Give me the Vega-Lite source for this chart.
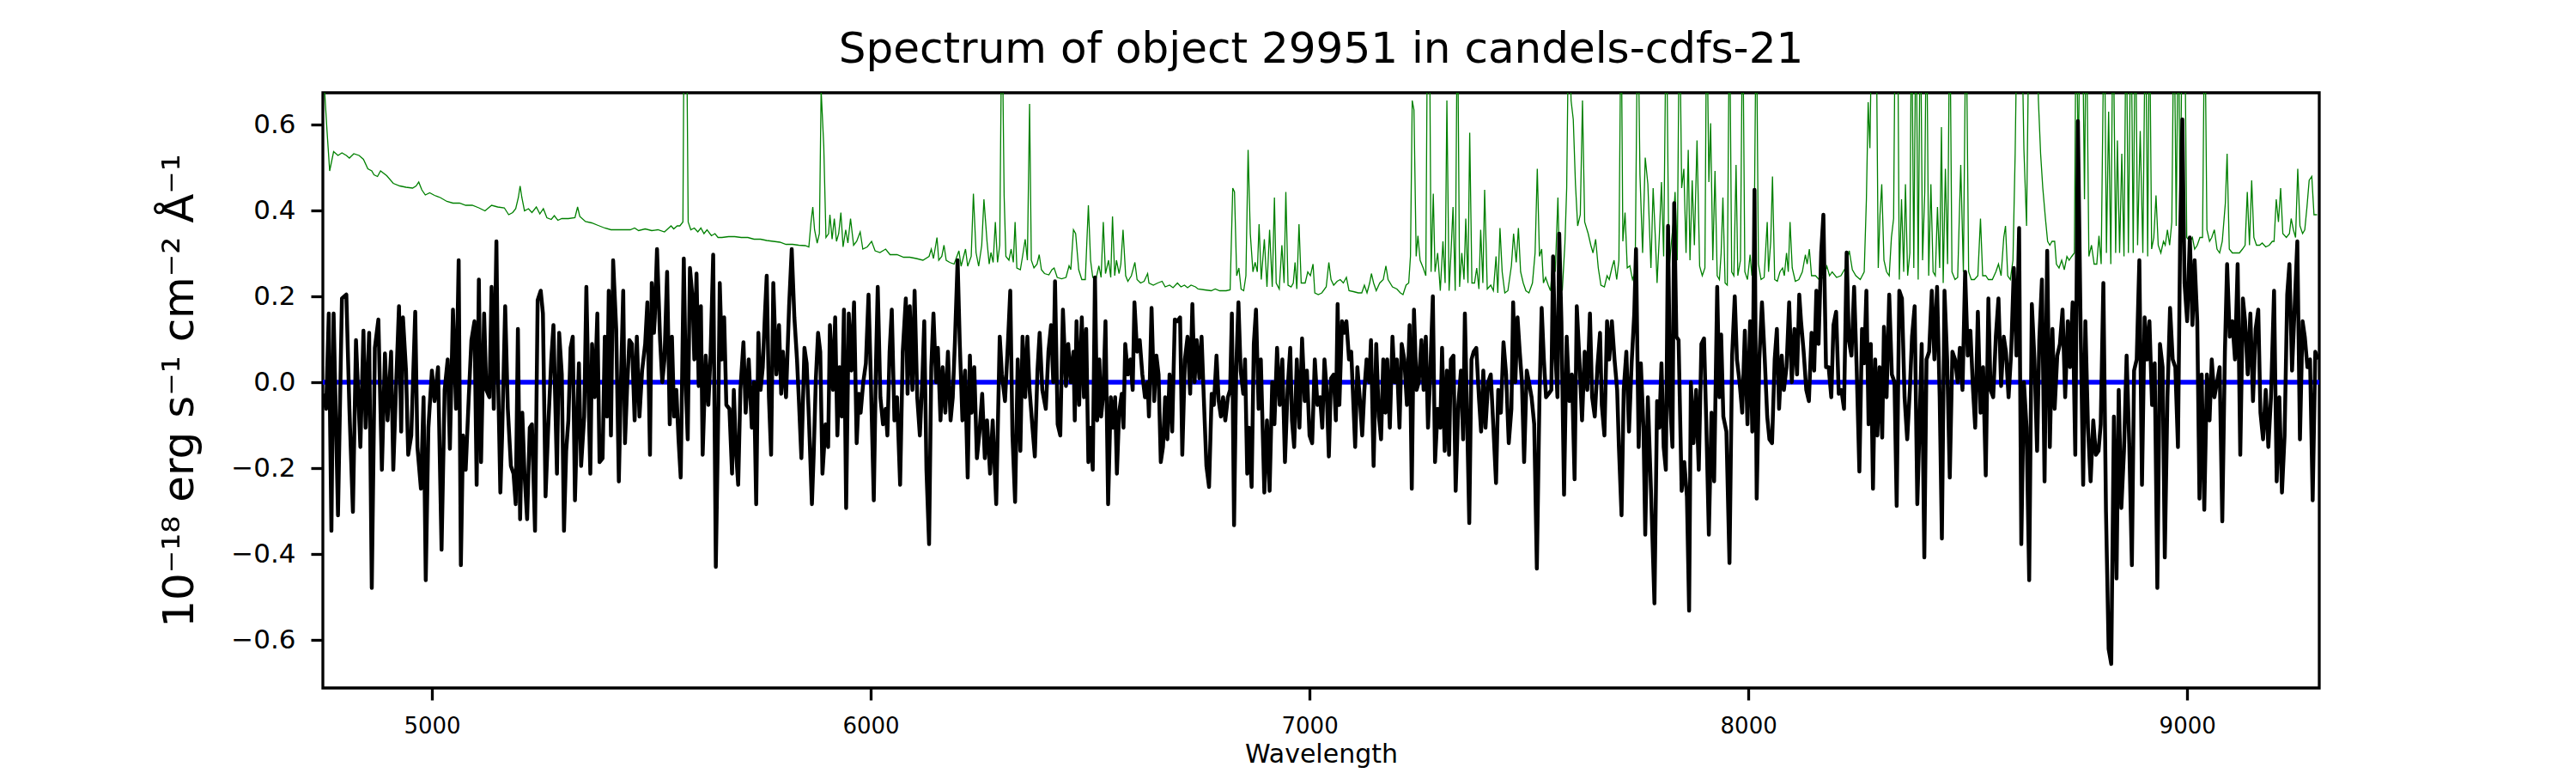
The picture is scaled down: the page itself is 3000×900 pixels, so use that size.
{
  "$schema": "https://vega.github.io/schema/vega-lite/v6.json",
  "width": 2325,
  "height": 693,
  "autosize": {"type": "none"},
  "padding": {"left": 376, "top": 108, "right": 299, "bottom": 99},
  "background": "white",
  "title": {
    "text": "Spectrum of object 29951 in candels-cdfs-21",
    "font": "DejaVu Sans",
    "fontSize": 50,
    "fontWeight": "normal",
    "color": "black",
    "anchor": "middle",
    "offset": 25
  },
  "config": {
    "font": "DejaVu Sans",
    "view": {"stroke": "black", "strokeWidth": 3.3}
  },
  "datasets": {
    "model": [
      {"w": 4751, "f": 0},
      {"w": 9301, "f": 0}
    ],
    "sky": [
      {"w":4752,"f":0.80},{"w":4756,"f":0.67},{"w":4761,"f":0.585},{"w":4767,"f":0.492},{"w":4776,"f":0.537},{"w":4786,"f":0.528},{"w":4795,"f":0.534},{"w":4805,"f":0.528},{"w":4812,"f":0.522},{"w":4822,"f":0.532},{"w":4834,"f":0.528},{"w":4844,"f":0.519},{"w":4854,"f":0.497},{"w":4863,"f":0.492},{"w":4868,"f":0.483},{"w":4876,"f":0.479},{"w":4883,"f":0.492},{"w":4897,"f":0.481},{"w":4912,"f":0.463},{"w":4927,"f":0.457},{"w":4941,"f":0.454},{"w":4956,"f":0.452},{"w":4964,"f":0.457},{"w":4970,"f":0.466},{"w":4977,"f":0.448},{"w":4985,"f":0.436},{"w":4995,"f":0.441},{"w":5006,"f":0.435},{"w":5019,"f":0.430},{"w":5034,"f":0.421},{"w":5048,"f":0.417},{"w":5063,"f":0.417},{"w":5077,"f":0.412},{"w":5092,"f":0.412},{"w":5107,"f":0.406},{"w":5121,"f":0.399},{"w":5136,"f":0.412},{"w":5150,"f":0.408},{"w":5165,"f":0.406},{"w":5175,"f":0.390},{"w":5184,"f":0.395},{"w":5191,"f":0.404},{"w":5197,"f":0.430},{"w":5201,"f":0.457},{"w":5205,"f":0.430},{"w":5211,"f":0.399},{"w":5220,"f":0.404},{"w":5228,"f":0.395},{"w":5238,"f":0.408},{"w":5246,"f":0.392},{"w":5254,"f":0.404},{"w":5262,"f":0.383},{"w":5272,"f":0.379},{"w":5279,"f":0.388},{"w":5287,"f":0.377},{"w":5296,"f":0.381},{"w":5311,"f":0.381},{"w":5326,"f":0.383},{"w":5332,"f":0.408},{"w":5337,"f":0.386},{"w":5350,"f":0.374},{"w":5364,"f":0.371},{"w":5379,"f":0.365},{"w":5394,"f":0.359},{"w":5408,"f":0.355},{"w":5423,"f":0.355},{"w":5437,"f":0.355},{"w":5452,"f":0.355},{"w":5462,"f":0.359},{"w":5471,"f":0.353},{"w":5486,"f":0.357},{"w":5501,"f":0.353},{"w":5515,"f":0.355},{"w":5530,"f":0.350},{"w":5545,"f":0.364},{"w":5551,"f":0.357},{"w":5559,"f":0.364},{"w":5565,"f":0.364},{"w":5572,"f":0.373},{"w":5575,"f":0.9},{"w":5580,"f":0.9},{"w":5584,"f":0.373},{"w":5590,"f":0.355},{"w":5598,"f":0.359},{"w":5606,"f":0.350},{"w":5613,"f":0.359},{"w":5620,"f":0.346},{"w":5627,"f":0.355},{"w":5637,"f":0.341},{"w":5645,"f":0.346},{"w":5652,"f":0.337},{"w":5661,"f":0.337},{"w":5676,"f":0.339},{"w":5690,"f":0.339},{"w":5705,"f":0.337},{"w":5720,"f":0.337},{"w":5734,"f":0.333},{"w":5749,"f":0.333},{"w":5763,"f":0.330},{"w":5778,"f":0.328},{"w":5793,"f":0.326},{"w":5807,"f":0.321},{"w":5822,"f":0.321},{"w":5836,"f":0.319},{"w":5851,"f":0.318},{"w":5859,"f":0.315},{"w":5864,"f":0.373},{"w":5868,"f":0.408},{"w":5872,"f":0.355},{"w":5878,"f":0.324},{"w":5883,"f":0.346},{"w":5887,"f":0.68},{"w":5893,"f":0.550},{"w":5898,"f":0.337},{"w":5904,"f":0.346},{"w":5907,"f":0.390},{"w":5912,"f":0.333},{"w":5917,"f":0.381},{"w":5922,"f":0.328},{"w":5927,"f":0.346},{"w":5932,"f":0.395},{"w":5937,"f":0.315},{"w":5943,"f":0.355},{"w":5948,"f":0.324},{"w":5954,"f":0.381},{"w":5961,"f":0.319},{"w":5968,"f":0.328},{"w":5976,"f":0.350},{"w":5982,"f":0.310},{"w":5992,"f":0.315},{"w":6002,"f":0.328},{"w":6010,"f":0.306},{"w":6021,"f":0.302},{"w":6034,"f":0.310},{"w":6044,"f":0.297},{"w":6060,"f":0.297},{"w":6075,"f":0.291},{"w":6089,"f":0.291},{"w":6104,"f":0.288},{"w":6119,"f":0.284},{"w":6133,"f":0.293},{"w":6138,"f":0.310},{"w":6143,"f":0.288},{"w":6151,"f":0.337},{"w":6155,"f":0.284},{"w":6162,"f":0.293},{"w":6167,"f":0.319},{"w":6172,"f":0.284},{"w":6180,"f":0.279},{"w":6190,"f":0.275},{"w":6201,"f":0.306},{"w":6206,"f":0.270},{"w":6216,"f":0.310},{"w":6221,"f":0.270},{"w":6229,"f":0.293},{"w":6234,"f":0.439},{"w":6240,"f":0.302},{"w":6246,"f":0.270},{"w":6253,"f":0.319},{"w":6258,"f":0.426},
      {"w":6265,"f":0.328},{"w":6270,"f":0.275},{"w":6274,"f":0.302},{"w":6279,"f":0.279},{"w":6284,"f":0.373},{"w":6289,"f":0.279},{"w":6294,"f":0.319},{"w":6299,"f":0.9},{"w":6304,"f":0.435},{"w":6308,"f":0.293},{"w":6315,"f":0.284},{"w":6320,"f":0.310},{"w":6325,"f":0.279},{"w":6329,"f":0.373},{"w":6333,"f":0.266},{"w":6341,"f":0.262},{"w":6346,"f":0.293},{"w":6352,"f":0.333},{"w":6357,"f":0.284},{"w":6362,"f":0.648},{"w":6366,"f":0.284},{"w":6372,"f":0.266},{"w":6379,"f":0.275},{"w":6384,"f":0.297},{"w":6389,"f":0.262},{"w":6396,"f":0.253},{"w":6406,"f":0.250},{"w":6413,"f":0.262},{"w":6418,"f":0.266},{"w":6425,"f":0.244},{"w":6435,"f":0.241},{"w":6445,"f":0.244},{"w":6452,"f":0.271},{"w":6456,"f":0.262},{"w":6462,"f":0.355},{"w":6467,"f":0.346},{"w":6474,"f":0.262},{"w":6481,"f":0.239},{"w":6489,"f":0.239},{"w":6496,"f":0.412},{"w":6501,"f":0.284},{"w":6506,"f":0.244},{"w":6513,"f":0.239},{"w":6520,"f":0.271},{"w":6525,"f":0.244},{"w":6530,"f":0.373},{"w":6535,"f":0.253},{"w":6542,"f":0.284},{"w":6547,"f":0.244},{"w":6551,"f":0.386},{"w":6556,"f":0.248},{"w":6560,"f":0.284},{"w":6566,"f":0.253},{"w":6570,"f":0.275},{"w":6575,"f":0.355},{"w":6581,"f":0.248},{"w":6586,"f":0.235},{"w":6594,"f":0.248},{"w":6602,"f":0.279},{"w":6607,"f":0.239},{"w":6615,"f":0.231},{"w":6623,"f":0.235},{"w":6631,"f":0.253},{"w":6634,"f":0.231},{"w":6644,"f":0.226},{"w":6654,"f":0.231},{"w":6664,"f":0.235},{"w":6671,"f":0.222},{"w":6681,"f":0.226},{"w":6689,"f":0.220},{"w":6699,"f":0.231},{"w":6707,"f":0.222},{"w":6715,"f":0.226},{"w":6722,"f":0.220},{"w":6730,"f":0.226},{"w":6740,"f":0.222},{"w":6746,"f":0.217},{"w":6761,"f":0.215},{"w":6776,"f":0.213},{"w":6785,"f":0.217},{"w":6795,"f":0.213},{"w":6810,"f":0.213},{"w":6819,"f":0.215},{"w":6825,"f":0.452},{"w":6829,"f":0.443},{"w":6834,"f":0.248},{"w":6839,"f":0.266},{"w":6844,"f":0.217},{"w":6850,"f":0.213},{"w":6855,"f":0.248},{"w":6860,"f":0.541},{"w":6865,"f":0.346},{"w":6871,"f":0.257},{"w":6876,"f":0.279},{"w":6881,"f":0.257},{"w":6885,"f":0.368},{"w":6890,"f":0.239},{"w":6897,"f":0.333},{"w":6903,"f":0.222},{"w":6909,"f":0.355},{"w":6915,"f":0.222},{"w":6920,"f":0.430},{"w":6924,"f":0.231},{"w":6931,"f":0.217},{"w":6937,"f":0.319},{"w":6942,"f":0.231},{"w":6946,"f":0.443},{"w":6951,"f":0.226},{"w":6958,"f":0.222},{"w":6963,"f":0.231},{"w":6967,"f":0.279},{"w":6971,"f":0.217},{"w":6976,"f":0.368},{"w":6981,"f":0.231},{"w":6990,"f":0.231},{"w":6996,"f":0.257},{"w":7002,"f":0.248},{"w":7008,"f":0.275},{"w":7012,"f":0.208},{"w":7020,"f":0.204},{"w":7028,"f":0.208},{"w":7038,"f":0.222},{"w":7044,"f":0.279},{"w":7049,"f":0.239},{"w":7055,"f":0.226},{"w":7063,"f":0.235},{"w":7070,"f":0.239},{"w":7077,"f":0.231},{"w":7084,"f":0.244},{"w":7090,"f":0.213},{"w":7100,"f":0.211},{"w":7111,"f":0.208},{"w":7119,"f":0.208},{"w":7125,"f":0.226},{"w":7131,"f":0.208},{"w":7137,"f":0.231},{"w":7141,"f":0.253},{"w":7146,"f":0.231},{"w":7152,"f":0.213},{"w":7160,"f":0.231},{"w":7168,"f":0.239},{"w":7174,"f":0.271},{"w":7179,"f":0.239},{"w":7189,"f":0.222},{"w":7199,"f":0.217},{"w":7207,"f":0.208},{"w":7213,"f":0.204},{"w":7220,"f":0.226},{"w":7226,"f":0.231},{"w":7230,"f":0.293},{"w":7234,"f":0.656},{"w":7238,"f":0.634},{"w":7243,"f":0.293},{"w":7247,"f":0.341},{"w":7252,"f":0.284},{"w":7259,"f":0.266},{"w":7265,"f":0.248},{"w":7269,"f":0.9},{"w":7273,"f":0.9},{"w":7277,"f":0.257},{"w":7282,"f":0.439},{"w":7286,"f":0.257},{"w":7292,"f":0.301},{"w":7298,"f":0.213},{"w":7304,"f":0.328},{"w":7309,"f":0.231},{"w":7313,"f":0.656},{"w":7318,"f":0.213},{"w":7322,"f":0.293},{"w":7327,"f":0.408},{"w":7332,"f":0.213},{"w":7337,"f":0.9},{"w":7342,"f":0.222},{"w":7347,"f":0.301},{"w":7352,"f":0.239},{"w":7356,"f":0.381},{"w":7361,"f":0.231},{"w":7365,"f":0.581},{"w":7370,"f":0.231},{"w":7376,"f":0.231},{"w":7381,"f":0.266},{"w":7386,"f":0.217},{"w":7390,"f":0.355},{"w":7395,"f":0.231},{"w":7399,"f":0.448},{"w":7405,"f":0.217},{"w":7413,"f":0.226},{"w":7419,"f":0.213},{"w":7425,"f":0.293},{"w":7429,"f":0.208},{"w":7434,"f":0.359},{"w":7439,"f":0.257},{"w":7445,"f":0.208},{"w":7452,"f":0.213},{"w":7460,"f":0.271},{"w":7465,"f":0.346},{"w":7471,"f":0.279},{"w":7476,"f":0.359},{"w":7481,"f":0.257},{"w":7487,"f":0.231},{"w":7493,"f":0.213},{"w":7500,"f":0.208},{"w":7508,"f":0.231},{"w":7514,"f":0.301},{"w":7519,"f":0.497},{"w":7524,"f":0.293},{"w":7529,"f":0.310},{"w":7533,"f":0.231},{"w":7538,"f":0.244},{"w":7544,"f":0.226},{"w":7549,"f":0.213},{"w":7555,"f":0.288},{"w":7560,"f":0.257},{"w":7566,"f":0.430},{"w":7570,"f":0.248},{"w":7576,"f":0.213},{"w":7582,"f":0.324},{"w":7586,"f":0.452},{"w":7591,"f":0.9},{"w":7596,"f":0.656},{"w":7601,"f":0.612},{"w":7606,"f":0.461},{"w":7611,"f":0.364},{"w":7617,"f":0.390},{"w":7622,"f":0.656},{"w":7627,"f":0.373},{"w":7635,"f":0.346},{"w":7641,"f":0.319},{"w":7646,"f":0.301},{"w":7652,"f":0.333},{"w":7658,"f":0.266},{"w":7664,"f":0.226},{"w":7672,"f":0.222},{"w":7678,"f":0.248},{"w":7683,"f":0.239},{"w":7689,"f":0.266},{"w":7694,"f":0.284},{"w":7700,"f":0.239},{"w":7705,"f":0.284},{"w":7710,"f":0.9},{"w":7714,"f":0.328},{"w":7719,"f":0.395},{"w":7724,"f":0.266},{"w":7730,"f":0.271},{"w":7736,"f":0.239},{"w":7742,"f":0.257},{"w":7748,"f":0.9},{"w":7753,"f":0.483},{"w":7759,"f":0.301},{"w":7765,"f":0.523},{"w":7771,"f":0.461},
      {"w":7778,"f":0.266},{"w":7783,"f":0.452},{"w":7788,"f":0.337},{"w":7792,"f":0.231},{"w":7797,"f":0.337},{"w":7802,"f":0.466},{"w":7807,"f":0.293},{"w":7813,"f":0.9},{"w":7819,"f":0.257},{"w":7824,"f":0.319},{"w":7829,"f":0.373},{"w":7833,"f":0.443},{"w":7838,"f":0.284},{"w":7843,"f":0.9},{"w":7848,"f":0.452},{"w":7853,"f":0.497},{"w":7858,"f":0.301},{"w":7863,"f":0.541},{"w":7867,"f":0.284},{"w":7872,"f":0.470},{"w":7877,"f":0.319},{"w":7883,"f":0.563},{"w":7889,"f":0.270},{"w":7895,"f":0.248},{"w":7901,"f":0.266},{"w":7905,"f":0.9},{"w":7910,"f":0.466},{"w":7914,"f":0.603},{"w":7919,"f":0.284},{"w":7924,"f":0.492},{"w":7929,"f":0.248},{"w":7934,"f":0.239},{"w":7938,"f":0.301},{"w":7942,"f":0.430},{"w":7947,"f":0.231},{"w":7952,"f":0.226},{"w":7957,"f":0.9},{"w":7962,"f":0.257},{"w":7967,"f":0.248},{"w":7972,"f":0.506},{"w":7976,"f":0.248},{"w":7982,"f":0.284},{"w":7987,"f":0.9},{"w":7992,"f":0.257},{"w":7998,"f":0.239},{"w":8004,"f":0.297},{"w":8008,"f":0.248},{"w":8013,"f":0.301},{"w":8018,"f":0.9},{"w":8023,"f":0.275},{"w":8029,"f":0.239},{"w":8036,"f":0.244},{"w":8043,"f":0.373},{"w":8046,"f":0.257},{"w":8051,"f":0.328},{"w":8055,"f":0.479},{"w":8060,"f":0.239},{"w":8066,"f":0.235},{"w":8072,"f":0.257},{"w":8078,"f":0.266},{"w":8082,"f":0.248},{"w":8087,"f":0.301},{"w":8091,"f":0.257},{"w":8095,"f":0.373},{"w":8100,"f":0.266},{"w":8107,"f":0.235},{"w":8115,"f":0.239},{"w":8123,"f":0.257},{"w":8130,"f":0.297},{"w":8134,"f":0.275},{"w":8139,"f":0.310},{"w":8144,"f":0.248},{"w":8153,"f":0.248},{"w":8161,"f":0.239},{"w":8171,"f":0.244},{"w":8179,"f":0.270},{"w":8185,"f":0.248},{"w":8191,"f":0.257},{"w":8201,"f":0.244},{"w":8211,"f":0.248},{"w":8221,"f":0.266},{"w":8230,"f":0.306},{"w":8237,"f":0.262},{"w":8245,"f":0.248},{"w":8255,"f":0.239},{"w":8264,"f":0.257},{"w":8269,"f":0.426},{"w":8273,"f":0.652},{"w":8277,"f":0.545},{"w":8282,"f":0.9},{"w":8287,"f":0.9},{"w":8291,"f":0.9},{"w":8296,"f":0.266},{"w":8300,"f":0.390},{"w":8304,"f":0.461},{"w":8309,"f":0.284},{"w":8315,"f":0.257},{"w":8321,"f":0.248},{"w":8326,"f":0.337},{"w":8331,"f":0.381},{"w":8335,"f":0.9},{"w":8340,"f":0.9},{"w":8344,"f":0.239},{"w":8349,"f":0.426},{"w":8354,"f":0.257},{"w":8358,"f":0.461},{"w":8363,"f":0.248},{"w":8368,"f":0.301},{"w":8372,"f":0.9},{"w":8377,"f":0.266},{"w":8382,"f":0.9},{"w":8387,"f":0.239},{"w":8392,"f":0.9},{"w":8397,"f":0.284},{"w":8402,"f":0.443},{"w":8406,"f":0.9},{"w":8411,"f":0.248},{"w":8416,"f":0.461},{"w":8421,"f":0.257},{"w":8426,"f":0.248},{"w":8431,"f":0.408},{"w":8436,"f":0.266},{"w":8440,"f":0.594},{"w":8444,"f":0.231},{"w":8449,"f":0.497},{"w":8454,"f":0.275},{"w":8459,"f":0.9},{"w":8464,"f":0.257},{"w":8471,"f":0.239},{"w":8477,"f":0.244},{"w":8484,"f":0.506},{"w":8490,"f":0.257},{"w":8496,"f":0.9},{"w":8502,"f":0.257},{"w":8508,"f":0.239},{"w":8515,"f":0.239},{"w":8523,"f":0.248},{"w":8529,"f":0.381},{"w":8534,"f":0.248},{"w":8541,"f":0.248},{"w":8547,"f":0.239},{"w":8556,"f":0.239},{"w":8564,"f":0.257},{"w":8570,"f":0.275},{"w":8576,"f":0.248},{"w":8582,"f":0.337},{"w":8586,"f":0.364},{"w":8591,"f":0.248},{"w":8597,"f":0.239},{"w":8603,"f":0.284},{"w":8608,"f":0.532},{"w":8613,"f":0.9},{"w":8618,"f":0.9},{"w":8622,"f":0.9},{"w":8628,"f":0.541},{"w":8634,"f":0.364},{"w":8640,"f":0.9},{"w":8646,"f":0.9},{"w":8652,"f":0.9},{"w":8657,"f":0.9},{"w":8661,"f":0.656},{"w":8666,"f":0.532},{"w":8671,"f":0.452},{"w":8677,"f":0.381},{"w":8682,"f":0.328},{"w":8687,"f":0.319},{"w":8692,"f":0.328},{"w":8698,"f":0.328},{"w":8702,"f":0.275},{"w":8708,"f":0.266},{"w":8714,"f":0.284},{"w":8720,"f":0.262},{"w":8726,"f":0.293},{"w":8731,"f":0.284},{"w":8737,"f":0.293},{"w":8743,"f":0.301},{"w":8747,"f":0.9},{"w":8752,"f":0.497},{"w":8756,"f":0.9},{"w":8761,"f":0.9},{"w":8766,"f":0.426},{"w":8770,"f":0.9},{"w":8776,"f":0.293},{"w":8782,"f":0.319},{"w":8788,"f":0.275},{"w":8794,"f":0.275},{"w":8799,"f":0.341},{"w":8804,"f":0.275},{"w":8811,"f":0.9},{"w":8816,"f":0.301},{"w":8821,"f":0.630},{"w":8826,"f":0.275},{"w":8831,"f":0.9},{"w":8837,"f":0.301},{"w":8841,"f":0.563},{"w":8846,"f":0.301},{"w":8851,"f":0.532},{"w":8856,"f":0.293},{"w":8861,"f":0.9},{"w":8866,"f":0.301},{"w":8872,"f":0.9},{"w":8877,"f":0.301},{"w":8882,"f":0.9},{"w":8887,"f":0.319},{"w":8893,"f":0.585},{"w":8899,"f":0.301},{"w":8905,"f":0.9},{"w":8910,"f":0.293},{"w":8914,"f":0.9},{"w":8919,"f":0.310},{"w":8924,"f":0.337},{"w":8929,"f":0.435},{"w":8934,"f":0.319},{"w":8940,"f":0.301},{"w":8946,"f":0.328},{"w":8950,"f":0.319},{"w":8955,"f":0.355},{"w":8960,"f":0.319},{"w":8965,"f":0.373},{"w":8970,"f":0.9},{"w":8975,"f":0.364},{"w":8980,"f":0.9},{"w":8984,"f":0.355},{"w":8989,"f":0.9},{"w":8994,"f":0.9},{"w":8999,"f":0.337},{"w":9006,"f":0.328},{"w":9012,"f":0.337},{"w":9017,"f":0.310},{"w":9023,"f":0.319},{"w":9029,"f":0.337},{"w":9035,"f":0.337},{"w":9040,"f":0.9},{"w":9045,"f":0.355},{"w":9051,"f":0.328},{"w":9056,"f":0.337},{"w":9062,"f":0.355},{"w":9068,"f":0.310},{"w":9074,"f":0.301},{"w":9080,"f":0.328},{"w":9087,"f":0.417},{"w":9091,"f":0.532},{"w":9096,"f":0.310},{"w":9103,"f":0.301},{"w":9111,"f":0.301},{"w":9119,"f":0.301},{"w":9126,"f":0.310},{"w":9132,"f":0.319},{"w":9137,"f":0.443},{"w":9142,"f":0.319},{"w":9147,"f":0.470},{"w":9152,"f":0.337},{"w":9158,"f":0.319},{"w":9165,"f":0.319},{"w":9171,"f":0.324},{"w":9179,"f":0.315},{"w":9187,"f":0.319},{"w":9194,"f":0.328},{"w":9198,"f":0.328},{"w":9203,"f":0.426},{"w":9208,"f":0.373},{"w":9213,"f":0.452},{"w":9218,"f":0.346},{"w":9226,"f":0.337},{"w":9233,"f":0.346},{"w":9237,"f":0.381},{"w":9242,"f":0.355},{"w":9247,"f":0.337},{"w":9252,"f":0.497},{"w":9257,"f":0.364},{"w":9263,"f":0.346},{"w":9268,"f":0.355},{"w":9273,"f":0.408},{"w":9278,"f":0.470},{"w":9284,"f":0.479},{"w":9289,"f":0.390},{"w":9296,"f":0.390}
    ],
    "flux": [
      {"w":4752,"f":-0.027},{"w":4759,"f":-0.062},{"w":4765,"f":0.160},{"w":4771,"f":-0.346},{"w":4776,"f":0.160},{"w":4786,"f":-0.310},{"w":4795,"f":0.195},{"w":4805,"f":0.204},{"w":4812,"f":-0.062},{"w":4820,"f":-0.302},{"w":4827,"f":0.098},{"w":4837,"f":-0.151},{"w":4844,"f":0.120},{"w":4849,"f":-0.106},{"w":4857,"f":0.115},{"w":4863,"f":-0.479},{"w":4870,"f":0.080},{"w":4878,"f":0.146},{"w":4886,"f":-0.204},{"w":4893,"f":0.067},{"w":4899,"f":-0.089},{"w":4907,"f":0.071},{"w":4912,"f":-0.204},{"w":4919,"f":0.009},{"w":4925,"f":0.177},{"w":4930,"f":-0.115},{"w":4934,"f":0.151},{"w":4941,"f":0.027},{"w":4946,"f":-0.169},{"w":4953,"f":-0.124},{"w":4962,"f":0.164},{"w":4967,"f":-0.151},{"w":4975,"f":-0.248},{"w":4981,"f":-0.035},{"w":4986,"f":-0.461},{"w":4992,"f":-0.106},{"w":5000,"f":0.027},{"w":5006,"f":-0.044},{"w":5014,"f":0.035},{"w":5022,"f":-0.390},{"w":5029,"f":-0.018},{"w":5036,"f":0.053},{"w":5041,"f":-0.155},{"w":5048,"f":0.169},{"w":5055,"f":-0.062},{"w":5061,"f":0.284},{"w":5066,"f":-0.426},{"w":5071,"f":-0.124},{"w":5077,"f":-0.204},{"w":5084,"f":-0.035},{"w":5090,"f":0.098},{"w":5097,"f":0.142},{"w":5102,"f":-0.239},{"w":5107,"f":0.239},{"w":5112,"f":-0.186},{"w":5119,"f":0.160},{"w":5124,"f":-0.018},{"w":5131,"f":-0.035},{"w":5136,"f":0.222},{"w":5141,"f":-0.062},{"w":5147,"f":0.328},{"w":5150,"f":0.053},{"w":5156,"f":-0.257},{"w":5160,"f":-0.124},{"w":5167,"f":0.177},{"w":5173,"f":-0.062},{"w":5180,"f":-0.195},{"w":5186,"f":-0.213},{"w":5191,"f":-0.284},{"w":5196,"f":0.124},{"w":5201,"f":-0.319},{"w":5206,"f":-0.071},{"w":5211,"f":-0.213},{"w":5217,"f":-0.319},{"w":5223,"f":-0.106},{"w":5228,"f":-0.098},{"w":5235,"f":-0.346},{"w":5241,"f":0.191},{"w":5248,"f":0.213},{"w":5253,"f":0.160},{"w":5259,"f":-0.266},{"w":5265,"f":-0.106},{"w":5272,"f":0.053},{"w":5277,"f":0.133},{"w":5285,"f":-0.213},{"w":5290,"f":0.115},{"w":5296,"f":0.018},{"w":5301,"f":-0.346},{"w":5306,"f":-0.160},{"w":5311,"f":-0.089},{"w":5316,"f":0.080},{"w":5321,"f":0.106},{"w":5326,"f":-0.275},{"w":5330,"f":-0.124},{"w":5335,"f":0.044},{"w":5340,"f":-0.195},{"w":5347,"f":-0.080},{"w":5352,"f":0.222},{"w":5357,"f":-0.035},{"w":5361,"f":-0.213},{"w":5365,"f":0.089},{"w":5371,"f":-0.035},{"w":5377,"f":0.160},{"w":5382,"f":-0.186},{"w":5389,"f":-0.177},{"w":5394,"f":0.106},{"w":5399,"f":-0.080},{"w":5403,"f":0.213},{"w":5408,"f":-0.124},{"w":5413,"f":0.284},{"w":5420,"f":0.124},{"w":5426,"f":-0.231},{"w":5431,"f":0.009},{"w":5436,"f":0.213},{"w":5440,"f":-0.142},{"w":5445,"f":-0.009},{"w":5450,"f":0.098},{"w":5456,"f":0.089},{"w":5462,"f":-0.089},{"w":5467,"f":0.106},{"w":5473,"f":-0.080},{"w":5479,"f":0.027},{"w":5486,"f":0.089},{"w":5491,"f":0.186},{"w":5497,"f":-0.169},{"w":5501,"f":0.231},{"w":5506,"f":0.115},{"w":5508,"f":0.151},{"w":5513,"f":0.310},{"w":5520,"f":0.098},{"w":5525,"f":0},{"w":5530,"f":0.053},{"w":5536,"f":0.257},{"w":5542,"f":-0.098},{"w":5547,"f":0.106},{"w":5552,"f":-0.080},{"w":5557,"f":-0.018},{"w":5562,"f":-0.133},{"w":5567,"f":-0.222},{"w":5574,"f":0.288},{"w":5579,"f":-0.018},{"w":5583,"f":-0.133},{"w":5588,"f":0.266},{"w":5594,"f":0.195},{"w":5598,"f":0.053},{"w":5603,"f":0.253},{"w":5608,"f":-0.009},{"w":5613,"f":0.177},{"w":5617,"f":-0.169},{"w":5624,"f":0.062},{"w":5630,"f":-0.053},{"w":5635,"f":0.062},{"w":5641,"f":0.297},{"w":5647,"f":-0.430},{"w":5653,"f":-0.044},{"w":5656,"f":0.231},{"w":5661,"f":0.053},{"w":5666,"f":0.151},{"w":5671,"f":-0.053},{"w":5678,"f":-0.062},{"w":5684,"f":-0.213},{"w":5688,"f":-0.018},{"w":5693,"f":-0.160},{"w":5698,"f":-0.239},{"w":5703,"f":-0.018},{"w":5710,"f":0.093},{"w":5715,"f":-0.071},{"w":5722,"f":0.053},{"w":5729,"f":-0.106},{"w":5734,"f":0},{"w":5739,"f":-0.284},{"w":5744,"f":0.115},{"w":5749,"f":-0.018},{"w":5754,"f":0.035},{"w":5759,"f":0.160},{"w":5763,"f":0.248},{"w":5768,"f":-0.035},{"w":5773,"f":-0.169},{"w":5778,"f":0.231},{"w":5785,"f":0.018},{"w":5791,"f":0.133},{"w":5796,"f":-0.027},{"w":5800,"f":0.071},{"w":5807,"f":-0.035},{"w":5814,"f":0.177},{"w":5820,"f":0.310},{"w":5826,"f":0.151},{"w":5832,"f":0.053},{"w":5836,"f":-0.035},{"w":5842,"f":-0.177},{"w":5849,"f":0.080},{"w":5854,"f":0.044},{"w":5859,"f":-0.080},{"w":5866,"f":-0.284},{"w":5870,"f":-0.169},{"w":5875,"f":0.009},{"w":5880,"f":0.115},{"w":5885,"f":0.071},{"w":5890,"f":-0.213},{"w":5897,"f":-0.098},{"w":5903,"f":-0.151},{"w":5907,"f":0.133},{"w":5914,"f":-0.018},{"w":5919,"f":0.151},{"w":5924,"f":-0.124},{"w":5929,"f":0.035},{"w":5934,"f":-0.080},{"w":5939,"f":0.169},{"w":5944,"f":-0.293},{"w":5950,"f":0.160},{"w":5956,"f":0.027},{"w":5962,"f":0.186},{"w":5968,"f":-0.142},{"w":5973,"f":-0.027},{"w":5977,"f":-0.071},{"w":5983,"f":0},{"w":5989,"f":0.044},{"w":5995,"f":0.204},{"w":6000,"f":0.018},{"w":6007,"f":-0.275},{"w":6012,"f":0.044},{"w":6016,"f":0.222},{"w":6022,"f":-0.035},{"w":6028,"f":-0.098},{"w":6034,"f":-0.062},{"w":6038,"f":-0.124},{"w":6043,"f":0.071},{"w":6048,"f":0.169},{"w":6054,"f":-0.089},{"w":6060,"f":-0.035},{"w":6067,"f":-0.239},{"w":6073,"f":0.071},{"w":6080,"f":0.195},{"w":6084,"f":-0.027},{"w":6089,"f":0.177},{"w":6095,"f":-0.018},{"w":6100,"f":0.213},{"w":6106,"f":-0.035},{"w":6112,"f":-0.124},{"w":6118,"f":0.018},{"w":6122,"f":0.142},{"w":6127,"f":-0.204},{"w":6133,"f":-0.377},{"w":6138,"f":0.035},{"w":6143,"f":0.160},{"w":6149,"f":0},{"w":6153,"f":0.080},{"w":6159,"f":-0.089},{"w":6164,"f":0.035},{"w":6170,"f":-0.071},{"w":6176,"f":0.071},{"w":6182,"f":-0.089},{"w":6187,"f":-0.035},{"w":6192,"f":0.098},{"w":6198,"f":0.284},{"w":6203,"f":0.089},{"w":6209,"f":-0.089},{"w":6215,"f":0.027},{"w":6221,"f":-0.222},{"w":6226,"f":0.062},{"w":6230,"f":-0.071},{"w":6236,"f":0.035},{"w":6242,"f":-0.177},{"w":6248,"f":-0.115},{"w":6254,"f":-0.027},{"w":6260,"f":-0.177},
      {"w":6265,"f":-0.089},{"w":6272,"f":-0.213},{"w":6278,"f":-0.089},{"w":6286,"f":-0.284},{"w":6294,"f":0.106},{"w":6299,"f":0.018},{"w":6306,"f":-0.044},{"w":6313,"f":0.098},{"w":6318,"f":0.213},{"w":6323,"f":-0.124},{"w":6329,"f":-0.279},{"w":6335,"f":0.053},{"w":6341,"f":-0.160},{"w":6346,"f":0.106},{"w":6352,"f":-0.035},{"w":6357,"f":0.106},{"w":6362,"f":-0.018},{"w":6368,"f":-0.098},{"w":6374,"f":-0.173},{"w":6380,"f":0.027},{"w":6385,"f":0.115},{"w":6391,"f":-0.018},{"w":6399,"f":-0.062},{"w":6405,"f":0.071},{"w":6411,"f":0.133},{"w":6416,"f":0},{"w":6420,"f":0.235},{"w":6426,"f":-0.098},{"w":6432,"f":-0.124},{"w":6438,"f":0.169},{"w":6445,"f":-0.009},{"w":6450,"f":0.089},{"w":6456,"f":0},{"w":6462,"f":0.071},{"w":6465,"f":-0.089},{"w":6469,"f":0.142},{"w":6475,"f":-0.053},{"w":6481,"f":0.151},{"w":6486,"f":-0.035},{"w":6491,"f":0.124},{"w":6496,"f":-0.186},{"w":6501,"f":-0.106},{"w":6506,"f":-0.204},{"w":6511,"f":0.244},{"w":6516,"f":-0.089},{"w":6521,"f":0.053},{"w":6525,"f":-0.080},{"w":6530,"f":-0.027},{"w":6535,"f":0.142},{"w":6541,"f":-0.284},{"w":6547,"f":-0.035},{"w":6552,"f":-0.106},{"w":6557,"f":-0.035},{"w":6561,"f":-0.213},{"w":6566,"f":-0.071},{"w":6572,"f":-0.027},{"w":6576,"f":-0.106},{"w":6580,"f":0.089},{"w":6586,"f":0.018},{"w":6592,"f":0.053},{"w":6597,"f":-0.018},{"w":6601,"f":0.186},{"w":6607,"f":0.071},{"w":6613,"f":0.098},{"w":6619,"f":0.018},{"w":6625,"f":-0.035},{"w":6631,"f":0},{"w":6634,"f":-0.080},{"w":6640,"f":0.173},{"w":6646,"f":-0.044},{"w":6651,"f":0.062},{"w":6656,"f":0.018},{"w":6661,"f":-0.186},{"w":6666,"f":-0.151},{"w":6671,"f":-0.035},{"w":6676,"f":-0.133},{"w":6681,"f":0.018},{"w":6687,"f":-0.115},{"w":6693,"f":0.146},{"w":6699,"f":0.142},{"w":6705,"f":0.151},{"w":6710,"f":-0.169},{"w":6716,"f":0.053},{"w":6722,"f":0.106},{"w":6728,"f":-0.027},{"w":6733,"f":0.182},{"w":6738,"f":0},{"w":6743,"f":0.098},{"w":6749,"f":0.009},{"w":6754,"f":0.106},{"w":6759,"f":-0.035},{"w":6765,"f":-0.195},{"w":6771,"f":-0.244},{"w":6777,"f":-0.027},{"w":6782,"f":-0.053},{"w":6788,"f":0.062},{"w":6793,"f":-0.044},{"w":6798,"f":-0.080},{"w":6803,"f":-0.035},{"w":6808,"f":-0.089},{"w":6814,"f":-0.035},{"w":6819,"f":-0.018},{"w":6823,"f":0.160},{"w":6828,"f":-0.333},{"w":6833,"f":0.035},{"w":6838,"f":0.186},{"w":6843,"f":0.027},{"w":6849,"f":-0.027},{"w":6853,"f":0.053},{"w":6858,"f":-0.213},{"w":6862,"f":-0.106},{"w":6868,"f":-0.244},{"w":6873,"f":0.089},{"w":6878,"f":0.169},{"w":6884,"f":-0.062},{"w":6889,"f":0.053},{"w":6897,"f":-0.257},{"w":6903,"f":-0.089},{"w":6909,"f":-0.253},{"w":6915,"f":0},{"w":6920,"f":-0.098},{"w":6926,"f":0.080},{"w":6932,"f":-0.053},{"w":6938,"f":0.053},{"w":6944,"f":-0.186},{"w":6950,"f":-0.018},{"w":6956,"f":0.080},{"w":6960,"f":-0.089},{"w":6965,"f":-0.151},{"w":6971,"f":0.053},{"w":6977,"f":-0.106},{"w":6983,"f":0.102},{"w":6989,"f":-0.044},{"w":6994,"f":0.027},{"w":7000,"f":-0.124},{"w":7006,"f":-0.142},{"w":7012,"f":0.053},{"w":7018,"f":-0.053},{"w":7024,"f":-0.035},{"w":7029,"f":-0.106},{"w":7034,"f":0.053},{"w":7039,"f":-0.018},{"w":7044,"f":-0.173},{"w":7049,"f":0.009},{"w":7055,"f":0.018},{"w":7060,"f":-0.089},{"w":7064,"f":0.182},{"w":7068,"f":-0.053},{"w":7074,"f":0.142},{"w":7079,"f":0.115},{"w":7084,"f":0.142},{"w":7090,"f":0.053},{"w":7095,"f":0.071},{"w":7100,"f":-0.053},{"w":7104,"f":-0.151},{"w":7109,"f":0.035},{"w":7115,"f":-0.044},{"w":7120,"f":-0.124},{"w":7125,"f":-0.018},{"w":7130,"f":0.053},{"w":7136,"f":0},{"w":7140,"f":0.098},{"w":7146,"f":-0.195},{"w":7152,"f":0.089},{"w":7158,"f":-0.080},{"w":7163,"f":-0.133},{"w":7168,"f":0.053},{"w":7173,"f":-0.071},{"w":7177,"f":0.053},{"w":7183,"f":-0.106},{"w":7189,"f":0.106},{"w":7194,"f":0},{"w":7199,"f":0.053},{"w":7205,"f":-0.106},{"w":7210,"f":0.089},{"w":7216,"f":0.053},{"w":7222,"f":-0.053},{"w":7228,"f":0.133},{"w":7233,"f":-0.248},{"w":7238,"f":0.169},{"w":7244,"f":-0.018},{"w":7249,"f":0},{"w":7255,"f":0.098},{"w":7260,"f":-0.018},{"w":7265,"f":0.106},{"w":7270,"f":-0.106},{"w":7275,"f":0.018},{"w":7281,"f":0.200},{"w":7286,"f":-0.186},{"w":7292,"f":-0.062},{"w":7298,"f":-0.106},{"w":7302,"f":0.080},{"w":7308,"f":-0.160},{"w":7313,"f":0.027},{"w":7318,"f":-0.169},{"w":7322,"f":0.053},{"w":7328,"f":0.062},{"w":7333,"f":-0.253},{"w":7339,"f":-0.053},{"w":7345,"f":0.027},{"w":7350,"f":-0.133},{"w":7354,"f":0.160},{"w":7359,"f":-0.080},{"w":7364,"f":-0.328},{"w":7369,"f":0.053},{"w":7374,"f":0.071},{"w":7380,"f":0.080},{"w":7386,"f":-0.035},{"w":7391,"f":-0.115},{"w":7396,"f":0.027},{"w":7401,"f":-0.106},{"w":7407,"f":0},{"w":7413,"f":0.018},{"w":7419,"f":-0.106},{"w":7425,"f":-0.235},{"w":7430,"f":-0.018},{"w":7436,"f":-0.071},{"w":7442,"f":0.093},{"w":7448,"f":0.018},{"w":7454,"f":-0.142},{"w":7460,"f":-0.062},{"w":7464,"f":0.186},{"w":7469,"f":0},{"w":7474,"f":0.151},{"w":7479,"f":0.071},{"w":7484,"f":0},{"w":7489,"f":-0.186},{"w":7495,"f":0.027},{"w":7500,"f":0},{"w":7506,"f":-0.035},{"w":7512,"f":-0.098},{"w":7518,"f":-0.434},{"w":7524,"f":-0.035},{"w":7529,"f":0.173},{"w":7534,"f":0.053},{"w":7539,"f":-0.035},{"w":7545,"f":-0.027},{"w":7551,"f":-0.018},{"w":7555,"f":0.293},{"w":7560,"f":0.071},{"w":7565,"f":-0.035},{"w":7569,"f":0.346},{"w":7574,"f":0.142},{"w":7580,"f":-0.262},{"w":7586,"f":0.106},{"w":7592,"f":-0.044},{"w":7598,"f":0.018},{"w":7604,"f":-0.226},{"w":7609,"f":0.177},{"w":7615,"f":0.053},{"w":7621,"f":-0.089},{"w":7627,"f":0.071},{"w":7633,"f":-0.018},{"w":7639,"f":0.160},{"w":7644,"f":-0.035},{"w":7650,"f":-0.080},{"w":7656,"f":0.035},{"w":7662,"f":0.115},{"w":7666,"f":-0.053},{"w":7672,"f":-0.124},{"w":7678,"f":0.142},{"w":7683,"f":0.053},{"w":7689,"f":0.142},{"w":7695,"f":0.053},{"w":7701,"f":-0.018},{"w":7705,"f":-0.151},{"w":7711,"f":-0.310},{"w":7716,"f":-0.018},{"w":7722,"f":0.071},{"w":7728,"f":-0.115},{"w":7734,"f":0.044},{"w":7740,"f":0.160},{"w":7744,"f":0.310},{"w":7750,"f":-0.151},{"w":7755,"f":0.044},{"w":7761,"f":-0.106},{"w":7765,"f":-0.355},{"w":7771,"f":-0.035},
      {"w":7778,"f":-0.249},{"w":7786,"f":-0.515},{"w":7792,"f":-0.044},{"w":7797,"f":-0.106},{"w":7802,"f":0.044},{"w":7807,"f":-0.151},{"w":7812,"f":-0.204},{"w":7817,"f":0.364},{"w":7822,"f":-0.053},{"w":7827,"f":-0.151},{"w":7831,"f":0.417},{"w":7836,"f":0.106},{"w":7841,"f":0.098},{"w":7848,"f":-0.253},{"w":7854,"f":-0.186},{"w":7860,"f":-0.266},{"w":7865,"f":-0.532},{"w":7869,"f":0},{"w":7875,"f":-0.142},{"w":7881,"f":-0.018},{"w":7887,"f":-0.204},{"w":7893,"f":0.089},{"w":7899,"f":0.102},{"w":7904,"f":-0.089},{"w":7910,"f":-0.355},{"w":7916,"f":-0.071},{"w":7922,"f":-0.231},{"w":7929,"f":0.222},{"w":7934,"f":-0.035},{"w":7938,"f":0.111},{"w":7943,"f":-0.080},{"w":7950,"f":-0.115},{"w":7957,"f":-0.421},{"w":7963,"f":0.062},{"w":7969,"f":0.200},{"w":7974,"f":0.053},{"w":7980,"f":0},{"w":7986,"f":-0.071},{"w":7992,"f":0.120},{"w":7998,"f":-0.098},{"w":8004,"f":0.142},{"w":8009,"f":-0.115},{"w":8014,"f":0.448},{"w":8019,"f":-0.271},{"w":8025,"f":0.053},{"w":8031,"f":0.186},{"w":8037,"f":0.062},{"w":8043,"f":-0.080},{"w":8048,"f":-0.133},{"w":8054,"f":-0.142},{"w":8060,"f":0.053},{"w":8065,"f":0.124},{"w":8070,"f":-0.062},{"w":8076,"f":0.062},{"w":8081,"f":-0.018},{"w":8087,"f":0.035},{"w":8093,"f":0.186},{"w":8099,"f":0},{"w":8105,"f":0.124},{"w":8111,"f":0.018},{"w":8116,"f":0.204},{"w":8120,"f":0.142},{"w":8126,"f":0.071},{"w":8132,"f":-0.018},{"w":8138,"f":-0.044},{"w":8144,"f":0.115},{"w":8150,"f":0.027},{"w":8155,"f":0.213},{"w":8160,"f":0.089},{"w":8166,"f":0.302},{"w":8171,"f":0.390},{"w":8177,"f":0.035},{"w":8183,"f":0.035},{"w":8189,"f":-0.035},{"w":8194,"f":0.133},{"w":8200,"f":0.164},{"w":8206,"f":-0.027},{"w":8212,"f":-0.018},{"w":8218,"f":-0.062},{"w":8224,"f":0.302},{"w":8229,"f":0.098},{"w":8235,"f":0.062},{"w":8241,"f":0.222},{"w":8247,"f":0.027},{"w":8253,"f":-0.208},{"w":8259,"f":0.124},{"w":8264,"f":0.044},{"w":8269,"f":0.213},{"w":8274,"f":-0.098},{"w":8279,"f":0.089},{"w":8284,"f":-0.248},{"w":8289,"f":0.053},{"w":8294,"f":-0.124},{"w":8299,"f":0.035},{"w":8305,"f":-0.129},{"w":8309,"f":0.129},{"w":8315,"f":-0.035},{"w":8321,"f":0.204},{"w":8327,"f":0.018},{"w":8333,"f":0},{"w":8338,"f":-0.288},{"w":8344,"f":0.213},{"w":8350,"f":0.195},{"w":8356,"f":-0.035},{"w":8362,"f":-0.133},{"w":8368,"f":-0.018},{"w":8373,"f":0.106},{"w":8379,"f":0.177},{"w":8385,"f":-0.284},{"w":8389,"f":-0.142},{"w":8395,"f":0.089},{"w":8401,"f":-0.408},{"w":8406,"f":0.053},{"w":8412,"f":0.071},{"w":8418,"f":0.213},{"w":8424,"f":0.053},{"w":8430,"f":0.222},{"w":8436,"f":-0.035},{"w":8441,"f":-0.364},{"w":8447,"f":0.213},{"w":8453,"f":0.053},{"w":8459,"f":-0.222},{"w":8465,"f":0.071},{"w":8471,"f":0.053},{"w":8477,"f":0},{"w":8482,"f":0.080},{"w":8488,"f":-0.018},{"w":8494,"f":0.257},{"w":8500,"f":0.062},{"w":8506,"f":0.120},{"w":8512,"f":-0.018},{"w":8517,"f":-0.106},{"w":8523,"f":0.164},{"w":8529,"f":-0.071},{"w":8535,"f":0.035},{"w":8541,"f":-0.217},{"w":8547,"f":0.195},{"w":8552,"f":-0.018},{"w":8558,"f":-0.035},{"w":8564,"f":0.106},{"w":8570,"f":0.195},{"w":8576,"f":-0.009},{"w":8582,"f":0.106},{"w":8587,"f":0.071},{"w":8593,"f":-0.035},{"w":8599,"f":0.071},{"w":8605,"f":0.266},{"w":8611,"f":0.062},{"w":8617,"f":0.359},{"w":8622,"f":-0.377},{"w":8628,"f":0},{"w":8634,"f":-0.106},{"w":8640,"f":-0.461},{"w":8646,"f":0.182},{"w":8652,"f":0.053},{"w":8658,"f":-0.160},{"w":8663,"f":0.098},{"w":8669,"f":0.239},{"w":8675,"f":-0.231},{"w":8681,"f":0.306},{"w":8687,"f":-0.151},{"w":8693,"f":0.124},{"w":8698,"f":-0.062},{"w":8704,"f":0.062},{"w":8710,"f":0.089},{"w":8716,"f":0.169},{"w":8722,"f":-0.035},{"w":8728,"f":0.142},{"w":8733,"f":0.035},{"w":8739,"f":0.186},{"w":8745,"f":-0.169},{"w":8751,"f":0.608},{"w":8757,"f":0.142},{"w":8763,"f":-0.239},{"w":8768,"f":0.142},{"w":8774,"f":-0.106},{"w":8780,"f":-0.231},{"w":8786,"f":-0.089},{"w":8792,"f":-0.169},{"w":8798,"f":-0.160},{"w":8803,"f":-0.098},{"w":8809,"f":0.231},{"w":8815,"f":-0.302},{"w":8821,"f":-0.621},{"w":8827,"f":-0.656},{"w":8833,"f":-0.080},{"w":8839,"f":-0.457},{"w":8844,"f":-0.018},{"w":8850,"f":-0.293},{"w":8856,"f":-0.160},{"w":8862,"f":0.062},{"w":8868,"f":-0.142},{"w":8874,"f":-0.426},{"w":8879,"f":0.027},{"w":8885,"f":0.053},{"w":8891,"f":0.284},{"w":8897,"f":-0.239},{"w":8903,"f":0.151},{"w":8909,"f":0.053},{"w":8914,"f":0.142},{"w":8920,"f":-0.053},{"w":8926,"f":0.044},{"w":8932,"f":-0.479},{"w":8938,"f":0.089},{"w":8944,"f":0.035},{"w":8949,"f":-0.408},{"w":8955,"f":-0.035},{"w":8961,"f":0.173},{"w":8967,"f":0.053},{"w":8973,"f":0.035},{"w":8979,"f":-0.151},{"w":8984,"f":0.337},{"w":8989,"f":0.612},{"w":8994,"f":0.231},{"w":9000,"f":0.142},{"w":9006,"f":0.337},{"w":9012,"f":0.133},{"w":9017,"f":0.284},{"w":9023,"f":0.142},{"w":9028,"f":-0.271},{"w":9033,"f":0.018},{"w":9039,"f":-0.297},{"w":9045,"f":0.018},{"w":9051,"f":-0.089},{"w":9056,"f":0.053},{"w":9062,"f":-0.035},{"w":9068,"f":0},{"w":9074,"f":0.035},{"w":9080,"f":-0.324},{"w":9086,"f":0.071},{"w":9091,"f":0.275},{"w":9097,"f":0.106},{"w":9103,"f":0.142},{"w":9109,"f":0.053},{"w":9115,"f":0.275},{"w":9121,"f":-0.169},{"w":9127,"f":0.195},{"w":9132,"f":0.142},{"w":9138,"f":0.018},{"w":9144,"f":0.160},{"w":9150,"f":-0.044},{"w":9156,"f":0.124},{"w":9162,"f":0.169},{"w":9167,"f":-0.071},{"w":9173,"f":-0.133},{"w":9179,"f":-0.018},{"w":9185,"f":-0.151},{"w":9191,"f":-0.035},{"w":9198,"f":0.213},{"w":9204,"f":-0.231},{"w":9210,"f":-0.035},{"w":9216,"f":-0.257},{"w":9222,"f":-0.124},{"w":9228,"f":0.204},{"w":9233,"f":0.275},{"w":9239,"f":0.027},{"w":9245,"f":0.177},{"w":9251,"f":0.328},{"w":9257,"f":-0.133},{"w":9263,"f":0.142},{"w":9268,"f":0.106},{"w":9274,"f":0.035},{"w":9280,"f":0.053},{"w":9286,"f":-0.275},{"w":9292,"f":0.071},{"w":9298,"f":0.053}
    ]
  },
  "encoding": {
    "x": {
      "field": "w",
      "type": "quantitative",
      "scale": {"domain": [4751.5, 9301], "nice": false, "zero": false},
      "axis": {
        "title": "Wavelength",
        "values": [5000, 6000, 7000, 8000, 9000],
        "format": "d",
        "grid": false,
        "domain": false,
        "tickSize": 14,
        "tickWidth": 3.3,
        "tickColor": "black",
        "labelFont": "DejaVu Sans",
        "labelFontSize": 26,
        "labelColor": "black",
        "labelPadding": 17,
        "titleFont": "DejaVu Sans",
        "titleFontSize": 30,
        "titleFontWeight": "normal",
        "titleColor": "black",
        "titleBaseline": "alphabetic",
        "titleY": 86
      }
    },
    "y": {
      "field": "f",
      "type": "quantitative",
      "scale": {"domain": [-0.712, 0.674], "nice": false, "zero": false},
      "axis": {
        "title": "10⁻¹⁸ erg s⁻¹ cm⁻² Å⁻¹",
        "values": [-0.6, -0.4, -0.2, 0, 0.2, 0.4, 0.6],
        "format": ".1f",
        "grid": false,
        "domain": false,
        "tickSize": 14,
        "tickWidth": 3.3,
        "tickColor": "black",
        "labelFont": "DejaVu Sans",
        "labelFontSize": 31,
        "labelColor": "black",
        "labelPadding": 18,
        "titleFont": "DejaVu Sans",
        "titleFontSize": 50,
        "titleFontWeight": "normal",
        "titleColor": "black",
        "titleAngle": 270,
        "titleAlign": "center",
        "titleBaseline": "middle",
        "titleX": -167,
        "titleY": 346.5
      }
    }
  },
  "layer": [
    {
      "data": {"name": "sky"},
      "mark": {"type": "line", "color": "#008000", "strokeWidth": 1.3, "clip": true}
    },
    {
      "data": {"name": "model"},
      "mark": {"type": "line", "color": "#0000ff", "strokeWidth": 5.5, "clip": true}
    },
    {
      "data": {"name": "flux"},
      "mark": {"type": "line", "color": "#000000", "strokeWidth": 4.5, "strokeJoin": "round", "clip": true}
    }
  ]
}
